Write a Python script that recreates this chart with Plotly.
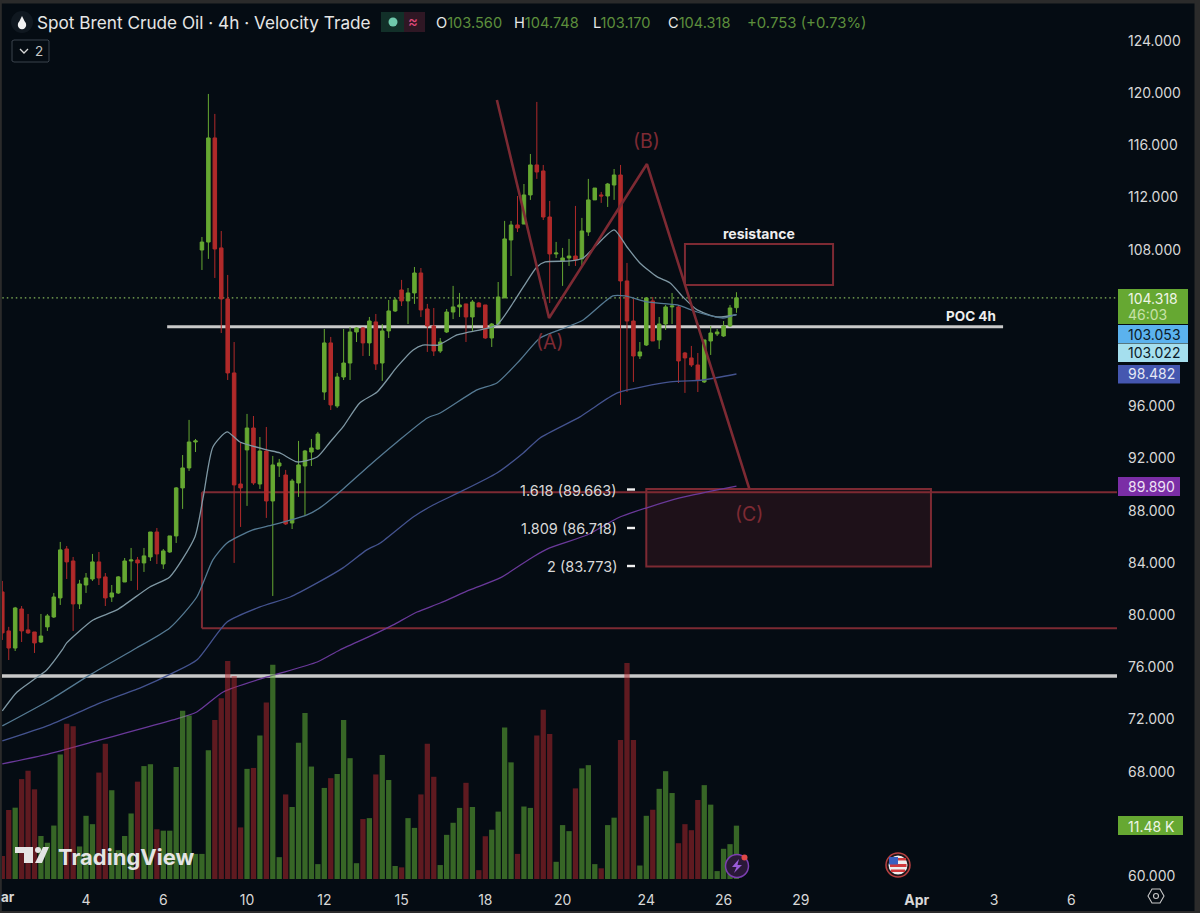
import plotly.graph_objects as go

# candle values, one entry per 4h bar
opens = [81.78,78.79,77.48,80.47,78.87,78.71,77.94,79.10,79.86,81.32,85.07,84.15,80.86,82.31,82.77,84.08,82.93,81.39,81.70,82.54,
         84.15,84.23,84.00,84.46,86.37,83.92,84.84,86.07,89.75,91.28,93.27,107.98,108.59,116.57,108.14,104.23,98.56,90.05,92.66,94.34,
         90.05,92.58,88.75,91.43,90.74,87.06,90.13,91.43,92.50,92.73,97.10,100.86,96.03,98.25,99.32,101.70,102.01,100.86,102.47,99.32,
         101.78,103.31,104.92,104.08,104.69,106.22,103.46,102.16,100.24,101.70,103.23,103.62,103.85,102.85,103.92,103.77,101.24,102.31,104.31,108.75,
         109.90,109.97,112.20,114.50,114.04,110.51,107.68,107.14,107.37,107.52,107.30,109.36,111.82,112.20,112.12,112.96,113.73,105.61,102.54,99.86,
         100.70,104.08,101.09,102.31,103.62,103.62,100.09,99.71,99.17,97.87,101.01,101.55,101.39,102.16,103.56]
highs = [82.62,79.10,80.63,80.70,80.09,78.71,80.09,80.09,81.70,85.61,85.30,84.46,82.70,83.23,84.69,84.84,83.23,82.31,83.00,84.38,
         85.15,84.46,85.15,86.37,86.68,85.07,86.07,89.82,92.27,94.96,93.50,108.98,119.94,118.41,109.44,106.07,100.93,93.27,95.42,95.26,
         93.65,94.42,92.20,91.97,91.13,90.44,93.35,92.66,93.50,94.04,101.93,101.32,98.56,101.93,102.08,102.08,102.08,102.85,103.08,102.31,
         104.15,104.31,105.69,105.07,106.68,106.60,103.85,103.54,101.24,103.46,105.23,104.69,103.85,104.15,104.00,103.77,102.39,105.53,110.21,110.21,
         112.12,113.04,115.34,119.33,114.50,111.74,108.60,108.14,108.83,111.36,110.44,113.43,112.73,112.43,113.12,114.19,114.50,106.99,104.23,100.93,
         104.38,104.38,102.85,103.77,104.69,103.77,100.17,100.63,100.09,101.09,102.16,101.93,102.54,103.77,104.748]
lows = [78.10,76.56,77.25,77.94,78.56,77.10,77.87,78.79,79.78,80.78,82.77,78.79,80.47,81.70,82.62,82.31,80.70,81.01,81.62,82.54,
        82.62,81.93,83.31,84.15,83.92,83.54,84.77,85.53,88.14,91.05,92.50,106.45,107.30,105.84,101.62,98.02,84.00,86.76,88.37,89.98,
        89.67,87.45,81.47,90.59,86.91,86.60,89.06,87.60,91.43,92.66,96.49,95.72,95.88,98.02,98.02,100.93,99.86,99.86,98.79,97.95,
        101.24,103.23,103.69,102.31,103.85,102.85,100.17,99.86,100.09,101.62,102.69,102.85,100.93,101.70,103.62,101.17,100.55,102.24,104.31,105.99,
        109.36,109.97,111.82,113.43,110.28,103.92,107.37,105.23,106.76,106.76,106.68,109.06,111.82,111.59,111.28,111.82,96.11,97.10,97.87,99.63,
        100.63,101.01,100.40,101.85,102.31,97.79,97.03,99.02,97.10,97.79,99.94,101.39,101.32,102.08,103.17]
closes = [78.64,77.48,80.55,78.79,78.64,77.87,78.40,79.94,81.39,85.00,84.08,80.86,82.39,82.85,84.08,82.85,81.32,81.70,82.93,84.15,
          84.23,84.00,84.54,86.37,84.69,84.92,86.07,89.75,91.28,93.27,93.35,108.59,116.57,108.06,104.23,98.56,89.98,89.75,94.34,90.13,
          92.58,88.75,91.51,91.66,86.99,90.28,91.51,92.58,92.81,93.88,100.86,96.11,98.25,99.32,101.70,102.01,100.86,102.54,99.25,101.78,
          103.31,104.15,104.08,104.69,106.22,103.39,102.16,100.24,100.93,103.23,103.62,103.77,102.85,104.00,103.62,101.24,102.31,104.38,108.83,109.90,
          109.67,112.20,114.50,113.96,110.51,107.68,107.75,107.37,107.52,107.22,109.44,111.82,112.73,112.12,113.04,113.73,105.61,102.54,99.86,100.17,
          104.31,101.01,102.31,103.62,103.69,99.48,99.71,99.17,98.02,101.09,101.62,101.70,102.16,103.54,104.318]
volumes = [4.95,14.85,15.35,21.5,23.3,19.3,9.25,7.8,11.5,26.8,33.4,32.9,7.0,13.6,11.8,22.9,29.1,19.1,6.2,9.25,
           14.1,20.95,24.3,24.7,10.7,10.4,10.4,24.1,36.2,35.2,5.4,5.4,27.7,34.2,38.9,46.9,43.7,11.1,23.7,23.9,
           30.9,38.0,46.1,4.7,18.2,15.5,29.3,35.7,24.2,3.2,19.6,21.7,22.6,34.2,26.0,3.4,12.9,13.1,22.5,26.7,
           21.3,2.8,2.5,13.1,11.0,18.2,29.1,22.0,3.0,9.5,12.1,15.3,20.7,15.5,1.9,9.2,10.6,14.5,32.6,25.1,
           5.4,15.6,15.3,30.9,36.4,31.2,3.7,11.6,10.3,19.5,23.8,24.5,3.2,2.3,11.6,13.2,29.9,46.5,29.9,2.9,
           13.6,14.9,19.4,23.2,18.5,7.7,11.8,10.5,17.0,20.2,16.0,1.7,6.5,7.5,11.48]
bars = list(range(len(opens)))

# moving averages, read at the bends of each line
ema1_x = [0,2.3,4.8,6.9,9.3,10.0,14.1,17.8,22.9,26.0,29.9,31.2,32.7,34.9,36.9,41.1,43.1,45.8,48.9,50.9,52.9,55.5,58.2,61.3,63.8,65.3,67.7,70.6,72.6,76.8,79.3,80.9,83.0,84.3,88.2,90.2,92.3,95.0,97.0,99.0,101.7,103.7,105.7,107.9,111.0,114]
ema1_y = [72.66,74.11,75.03,75.80,77.33,77.87,79.63,80.40,82.16,82.93,85.99,89.06,92.89,94.04,93.27,92.66,92.43,91.74,92.12,93.27,94.42,96.26,97.10,99.02,100.32,100.70,100.70,101.47,101.70,102.24,103.92,105.15,106.68,107.07,107.14,107.37,108.37,109.52,108.21,106.99,105.92,105.46,104.38,103.39,102.85,103.02]
ema2_x = [0,7.4,13.6,20.3,26.0,30.2,32.7,34.9,38.9,42.0,47.3,49.3,52.4,57.1,61.3,66.0,68.0,73.7,76.8,80.4,83.5,87.7,90.2,94.8,96.7,100.1,104.8,107.9,111.9,114]
ema2_y = [71.51,73.50,75.42,77.33,79.02,81.39,84.23,85.53,86.53,86.91,87.68,88.22,89.44,91.51,93.27,95.11,95.49,97.26,97.79,99.55,101.24,102.08,102.62,104.46,104.46,104.00,103.77,103.23,102.77,103.05]
ema3_x = [0,7.4,15.2,21.8,26.5,30.2,34.9,40.0,44.7,48.9,52.9,56.6,58.7,63.8,66.9,71.1,76.8,80.9,83.5,89.7,91.3,95.5,103.7,108.8,114]
ema3_y = [70.36,71.59,73.27,74.50,75.57,76.56,79.48,80.63,81.39,82.47,83.62,85.00,85.53,87.52,88.44,89.44,90.89,92.43,93.58,95.19,95.72,97.03,97.87,98.02,98.48]
ema4_x = [0,6.6,15.2,26.5,30.2,34.3,41.1,48.9,52.4,58.2,60.7,64.4,68.0,72.6,77.3,82.4,85.0,90.8,95.9,105.2,114]
ema4_y = [68.60,69.29,70.44,71.97,72.58,74.11,75.26,76.41,77.33,78.64,79.25,80.24,80.93,81.93,82.85,84.46,85.15,86.14,87.52,88.98,89.89]

# the hand drawn ABC wave
wave_x = [76.8,84.9,100.1,116.0]
wave_y = [119.48,102.77,114.57,89.67]

last_price = 104.318
poc_price = 102.1
lower_level = 75.34
zone_top = 89.42
zone_bottom = 78.99
zone_left = 31
fib_top = 89.66
fib_bottom = 83.72
fib_left = 100
fib_right = 144.2
res_top = 108.44
res_bottom = 105.3
res_left = 106
res_right = 129

price_ticks = [124,120,116,112,108,96,92,88,84,80,76,72,68,60]
date_ticks = [13,25,38,50,62,75,87,100,112,124,142,154,166]
date_labels = ["4","6","10","12","15","18","20","24","26","29","<b>Apr</b>","3","6"]

BG = "#050c13"
GREEN = "#66a832"
RED = "#b02a2a"
DRAW = "#7d2a33"
WHITE_LINE = "#c9c9c9"
FONT = "Inter"

# plot area in page pixels, used to place the overlay text
L, R, T, B = 2, 1117, 12, 888


def px(v):
    return (v - L) / (R - L)


def py(v):
    return 1 - (v - T) / (B - T)


fig = go.Figure()

fig.add_trace(go.Candlestick(
    x=bars, open=opens, high=highs, low=lows, close=closes,
    increasing=dict(line=dict(color=GREEN, width=1), fillcolor=GREEN),
    decreasing=dict(line=dict(color=RED, width=1), fillcolor=RED),
    whiskerwidth=0, showlegend=False))

vol_colors = ["#6abf3a" if c >= o else "#b9282d" for o, c in zip(opens, closes)]
fig.add_trace(go.Bar(x=bars, y=volumes, yaxis="y2", marker=dict(color=vol_colors, opacity=0.5, line=dict(width=0)),
                     width=0.82, showlegend=False))

for xs, ys, col in [(ema1_x, ema1_y, "#7f98a4"), (ema2_x, ema2_y, "#557a93"),
                    (ema3_x, ema3_y, "#44538f"), (ema4_x, ema4_y, "#6a399a")]:
    fig.add_trace(go.Scatter(x=xs, y=ys, mode="lines", line=dict(color=col, width=1.3, shape="spline", smoothing=0.6),
                             showlegend=False))

fig.add_trace(go.Scatter(x=wave_x, y=wave_y, mode="lines", line=dict(color=DRAW, width=2.6), showlegend=False))

x_end = (R - 2.3) / 6.44
# levels and boxes
fig.add_shape(type="line", x0=0, x1=x_end, y0=last_price, y1=last_price, layer="below",
              line=dict(color="#86b85a", width=1.2, dash="1.5px,3px"))
fig.add_shape(type="line", x0=25.6, x1=155.4, y0=poc_price, y1=poc_price, layer="below",
              line=dict(color=WHITE_LINE, width=3))
fig.add_shape(type="line", x0=-1, x1=x_end, y0=lower_level, y1=lower_level, layer="below",
              line=dict(color=WHITE_LINE, width=3.5))
fig.add_shape(type="line", x0=zone_left, x1=x_end, y0=zone_top, y1=zone_top, layer="below", line=dict(color=DRAW, width=2))
fig.add_shape(type="line", x0=zone_left, x1=x_end, y0=zone_bottom, y1=zone_bottom, layer="below", line=dict(color=DRAW, width=2))
fig.add_shape(type="line", x0=zone_left, x1=zone_left, y0=zone_bottom, y1=zone_top, layer="below", line=dict(color=DRAW, width=2))
fig.add_shape(type="rect", x0=fib_left, x1=fib_right, y0=fib_bottom, y1=fib_top, layer="below",
              line=dict(color=DRAW, width=2), fillcolor="rgba(130,40,50,0.2)")
fig.add_shape(type="rect", x0=res_left, x1=res_right, y0=res_bottom, y1=res_top, layer="below",
              line=dict(color=DRAW, width=2))


def text_at(x, y, s, size=13, color="#d8d8d8", anchor="center", bold=False, font=FONT):
    # annotations sit about 2px inside their anchor, take that back out
    nudge = {"left": -2, "right": 2, "center": 0}[anchor]
    fig.add_annotation(x=px(x + nudge), y=py(y), xref="paper", yref="paper", text=f"<b>{s}</b>" if bold else s,
                       showarrow=False, xanchor=anchor, yanchor="middle", align=anchor,
                       font=dict(family=font, size=size, color=color))


def page_rect(x0, y0, x1, y1, **kw):
    fig.add_shape(type="rect", xref="paper", yref="paper", x0=px(x0), x1=px(x1), y0=py(y0), y1=py(y1), **kw)


def page_circle(cx, cy, r, **kw):
    fig.add_shape(type="circle", xref="paper", yref="paper", x0=px(cx - r), x1=px(cx + r), y0=py(cy + r), y1=py(cy - r), **kw)


def page_path(points, close=True, **kw):
    d = "M " + " L ".join(f"{px(a):.5f},{py(b):.5f}" for a, b in points) + (" Z" if close else "")
    fig.add_shape(type="path", xref="paper", yref="paper", path=d, **kw)


NOLINE = dict(width=0)

# clip the 60.000 tick like the pane edge does
page_rect(1118, 881, 1194, 888, fillcolor=BG, line=NOLINE, layer="above")

# price tags on the right
page_rect(1118, 289, 1188, 324, fillcolor="#66a832", line=NOLINE)
page_rect(1118, 325, 1188, 343, fillcolor="#5bb2ee", line=NOLINE)
page_rect(1118, 343.5, 1188, 362, fillcolor="#a5dfee", line=NOLINE)
page_rect(1118, 365, 1180, 383.5, fillcolor="#4557b0", line=NOLINE)
page_rect(1118, 477, 1180, 496, fillcolor="#7b2ea6", line=NOLINE)
page_rect(1118, 816, 1183, 835, fillcolor="#66a832", line=NOLINE)
text_at(1128, 298, "104.318", 14, "#eef5e6", "left")
text_at(1128, 314, "46:03", 14, "#c6e2a8", "left")
text_at(1128, 334, "103.053", 14, "#0c1a28", "left")
text_at(1128, 353, "103.022", 14, "#0c1a28", "left")
text_at(1128, 374, "98.482", 14, "#e6e8f5", "left")
text_at(1128, 486.5, "89.890", 14, "#efe2f5", "left")
text_at(1128, 826, "11.48 K", 14, "#eef5e6", "left")

# drawing labels
text_at(550, 342, "(A)", 19.5, DRAW)
text_at(646, 141, "(B)", 19.5, DRAW)
text_at(749, 514, "(C)", 19.5, DRAW)
text_at(759, 233.5, "resistance", 14, "#eeeeee", bold=True)
text_at(971, 316, "POC 4h", 13.5, "#eeeeee", bold=True)
text_at(617, 490, "1.618 (89.663)", 14.5, "#d8d8d8", "right")
text_at(617, 528, "1.809 (86.718)", 14.5, "#d8d8d8", "right")
text_at(617, 566, "2 (83.773)", 14.5, "#d8d8d8", "right")
for fy in [489.5, 528, 566]:
    page_rect(627, fy - 1.2, 635, fy + 1.2, fillcolor="#f0f0f0", line=NOLINE)

# header
page_circle(22, 22, 11, fillcolor="#101820", line=NOLINE)
page_circle(22, 25, 4.2, fillcolor="#f2f2f2", line=NOLINE)
page_path([(22, 16), (18.3, 23.5), (25.7, 23.5)], fillcolor="#f2f2f2", line=NOLINE)
text_at(37, 22.5, "Spot Brent Crude Oil · 4h · Velocity Trade", 17.2, "#e6e6e6", "left")
page_rect(381, 12, 404, 32, fillcolor="#123029", line=NOLINE)
page_rect(404, 12, 425, 32, fillcolor="#2f1724", line=NOLINE)
page_circle(393, 22, 4.5, fillcolor="#6fc9ac", line=NOLINE)
text_at(413, 22, "≈", 15, "#e0497a")
hv = "#5d8f3c"
for hx, letter, value in [(436, "O", "103.560"), (514, "H", "104.748"), (593, "L", "103.170"), (668, "C", "104.318")]:
    text_at(hx, 23, f"{letter}<span style='color:{hv}'>{value}</span>", 14.6, "#e8e8e8", "left")
text_at(747, 23, "+0.753 (+0.73%)", 14.9, hv, "left")

# collapsed indicators button
page_path([(14, 40), (48, 40), (49, 41), (49, 61), (48, 62), (14, 62), (12, 61), (12, 41)],
          line=dict(color="#3a424c", width=1))
page_path([(20, 49), (24, 53), (28, 49)], close=False, line=dict(color="#d8d8d8", width=1.3))
text_at(39, 51.5, "2", 13.5, "#c8c8c8")

# TradingView mark
page_rect(15, 847, 33, 853, fillcolor="#e4e4e4", line=NOLINE)
page_rect(24, 847, 33, 863, fillcolor="#e4e4e4", line=NOLINE)
page_circle(38, 850, 3, fillcolor="#e4e4e4", line=NOLINE)
page_path([(43, 847), (49, 847), (42, 863), (35, 863)], fillcolor="#e4e4e4", line=NOLINE)
text_at(58, 856.5, "TradingView", 22, "#e4e4e4", "left", bold=True)

# news markers on the time axis
page_circle(737, 866, 11.5, fillcolor="#2a1838", line=dict(color="#7c3fb0", width=1.5))
page_path([(739, 859), (732, 867), (736.5, 867), (734, 873), (742, 865), (737.5, 865)], fillcolor="#9a5bd8", line=NOLINE)
page_circle(744.5, 857.5, 3, fillcolor="#e04848", line=NOLINE)

page_circle(898, 865, 12, fillcolor="#20161a", line=dict(color="#b84040", width=1.5))
page_circle(898, 865, 9.5, fillcolor="#eeeeee", line=NOLINE)
page_rect(890, 864, 906.5, 867, fillcolor="#d0393c", line=NOLINE)
page_rect(891, 869.5, 905, 872, fillcolor="#d0393c", line=NOLINE)
page_rect(892, 858, 906, 860.5, fillcolor="#d0393c", line=NOLINE)
page_rect(889, 857, 898, 864.5, fillcolor="#3a5fc0", line=NOLINE)

# clipped month label and settings hexagon
text_at(8, 897, "<b>ar</b>", 13.5, "#d8d8d8")
page_path([(1148, 896), (1152, 889), (1160, 889), (1164, 896), (1160, 903), (1152, 903)], line=dict(color="#c8c8c8", width=1.1))
page_circle(1156, 896, 2.5, line=dict(color="#c8c8c8", width=1.1))

# window frame around the pane
FRAME = "#2b2b2b"
page_rect(0, 0, 1200, 3.5, fillcolor=FRAME, line=NOLINE, layer="above")
page_rect(0, 0, 1.8, 913, fillcolor=FRAME, line=NOLINE, layer="above")
page_rect(1194.5, 0, 1200, 913, fillcolor=FRAME, line=NOLINE, layer="above")
page_rect(0, 911, 1200, 913, fillcolor=FRAME, line=NOLINE, layer="above")

fig.update_layout(
    width=1200, height=913, autosize=False,
    margin=dict(l=L, r=1200 - R, t=T, b=913 - B, pad=0),
    paper_bgcolor=BG, plot_bgcolor=BG,
    showlegend=False, boxgap=0.22, bargap=0.01,
    xaxis=dict(range=[(L - 2.3) / 6.44, x_end], rangeslider=dict(visible=False), showgrid=False, zeroline=False,
               tickvals=date_ticks, ticktext=date_labels, tickangle=0, ticks="", showline=False,
               tickfont=dict(family=FONT, size=14, color="#d8d8d8"), ticklabelstandoff=2),
    yaxis=dict(side="right", range=[59.09, 126.22], showgrid=False, zeroline=False, ticks="", showline=False,
               tickvals=price_ticks, ticktext=[f"{v}.000" for v in price_ticks],
               tickfont=dict(family=FONT, size=14, color="#d8d8d8"), ticklabelstandoff=10),
    yaxis2=dict(overlaying="y", range=[-1.94, 186.6], visible=False),
)

fig.write_html("out.html", config=dict(displayModeBar=False),
               post_script="document.body.style.margin='0';document.body.style.overflow='hidden';")
